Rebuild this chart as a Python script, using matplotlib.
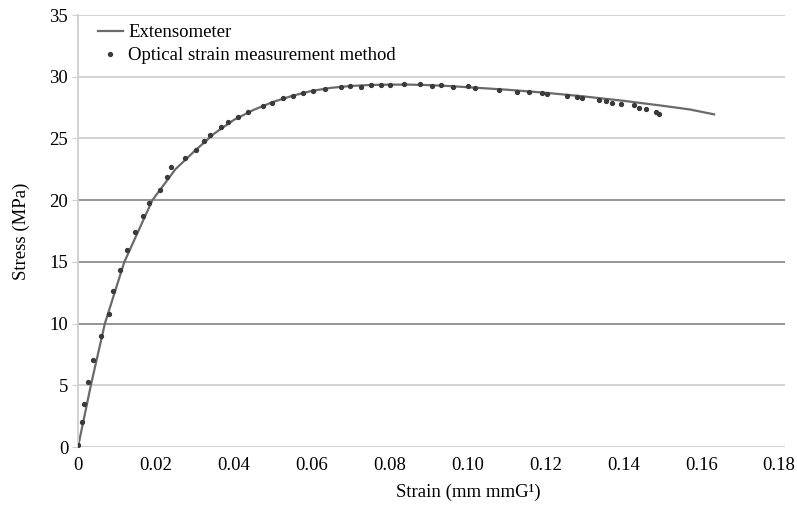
import matplotlib
matplotlib.use("Agg")
import matplotlib.pyplot as plt

# Extensometer curve
ext_strain = [0, 0.0033, 0.0069, 0.0119, 0.0191, 0.025, 0.030, 0.035, 0.040, 0.045,
              0.050, 0.055, 0.060, 0.065, 0.070, 0.075, 0.080, 0.085, 0.090, 0.095,
              0.100, 0.110, 0.120, 0.130, 0.140, 0.150, 0.157, 0.1633]
ext_stress = [0, 5.0, 10.0, 15.0, 20.0, 22.5, 24.0, 25.4, 26.5, 27.3,
              27.95, 28.45, 28.85, 29.1, 29.25, 29.33, 29.36, 29.36, 29.32, 29.25,
              29.15, 28.95, 28.7, 28.4, 28.05, 27.65, 27.35, 26.95]

# Optical strain measurement points
opt_strain = [0.0, 0.0009, 0.0016, 0.0026, 0.0039, 0.0059, 0.0080, 0.0091, 0.0108, 0.0125,
              0.0146, 0.0166, 0.0183, 0.0210, 0.0229, 0.0238, 0.0274, 0.0303, 0.0323, 0.0340,
              0.0368, 0.0385, 0.0411, 0.0437, 0.0475, 0.0497, 0.0526, 0.0552, 0.0578, 0.0603,
              0.0633, 0.0676, 0.0697, 0.0727, 0.0753, 0.0779, 0.0800, 0.0838, 0.0877, 0.0910,
              0.0933, 0.0962, 0.1000, 0.1018, 0.1082, 0.1128, 0.1159, 0.1190, 0.1205, 0.1256,
              0.1282, 0.1295, 0.1338, 0.1356, 0.1372, 0.1395, 0.1428, 0.1441, 0.1459, 0.1485,
              0.1492]
opt_stress = [0.2, 2.05, 3.5, 5.3, 7.05, 9.0, 10.8, 12.6, 14.3, 16.0,
              17.45, 18.7, 19.8, 20.8, 21.85, 22.7, 23.45, 24.05, 24.8, 25.3,
              25.9, 26.3, 26.7, 27.15, 27.6, 27.9, 28.25, 28.45, 28.7, 28.85,
              29.0, 29.15, 29.27, 29.2, 29.35, 29.33, 29.33, 29.38, 29.4, 29.27,
              29.3, 29.2, 29.22, 29.1, 28.92, 28.8, 28.8, 28.7, 28.62, 28.46,
              28.36, 28.25, 28.1, 28.0, 27.9, 27.76, 27.7, 27.5, 27.35, 27.15,
              26.98]

x_ticks = [0, 0.02, 0.04, 0.06, 0.08, 0.10, 0.12, 0.14, 0.16, 0.18]
x_tick_labels = ["0", "0.02", "0.04", "0.06", "0.08", "0.10", "0.12", "0.14", "0.16", "0.18"]
y_ticks = [0, 5, 10, 15, 20, 25, 30, 35]

plt.rcParams['font.family'] = ['Liberation Serif', 'DejaVu Serif']
FS = 13.5

fig = plt.figure(figsize=(7.97, 5.08), dpi=100)
ax = fig.add_axes([78/797, 1-447/508, (785-78)/797, (447-15)/508])

for y in y_ticks:
    c = '#8c8c8c' if y in (10, 15, 20) else '#cfcfcf'
    ax.axhline(y, color=c, lw=1.3, zorder=0)

ax.plot(ext_strain, ext_stress, color='#6a6a6a', lw=1.6, label='Extensometer', zorder=2)
ax.plot(opt_strain, opt_stress, linestyle='none', marker='o', ms=2.8, color='#3a3a3a',
        label='Optical strain measurement method', zorder=3)

ax.set_xlim(0, 0.1815)
ax.set_ylim(0, 35)
ax.set_xticks(x_ticks)
ax.set_xticklabels(x_tick_labels)
ax.set_yticks(y_ticks)
ax.tick_params(axis='x', length=0, labelsize=FS, pad=7)
ax.tick_params(axis='y', length=4, color='#cfcfcf', labelsize=FS, pad=3)

for s in ['top', 'right', 'bottom']:
    ax.spines[s].set_visible(False)
ax.spines['left'].set_color('#cfcfcf')
ax.spines['left'].set_linewidth(1.3)

ax.set_xlabel('Strain (mm mmG\u00b9)', fontsize=FS)
ax.xaxis.set_label_coords((468-78)/707, -(484-447)/432)
ax.set_ylabel('Stress (MPa)', fontsize=FS)
ax.yaxis.set_label_coords((30-78)/707, 0.5)

leg = ax.legend(loc='upper left', frameon=False, fontsize=FS, handlelength=1.3,
                handletextpad=0.3, borderaxespad=0, borderpad=0.1, labelspacing=0.3,
                bbox_to_anchor=(0.026, 0.983))

fig.savefig('out.png', dpi=100, facecolor='white')
